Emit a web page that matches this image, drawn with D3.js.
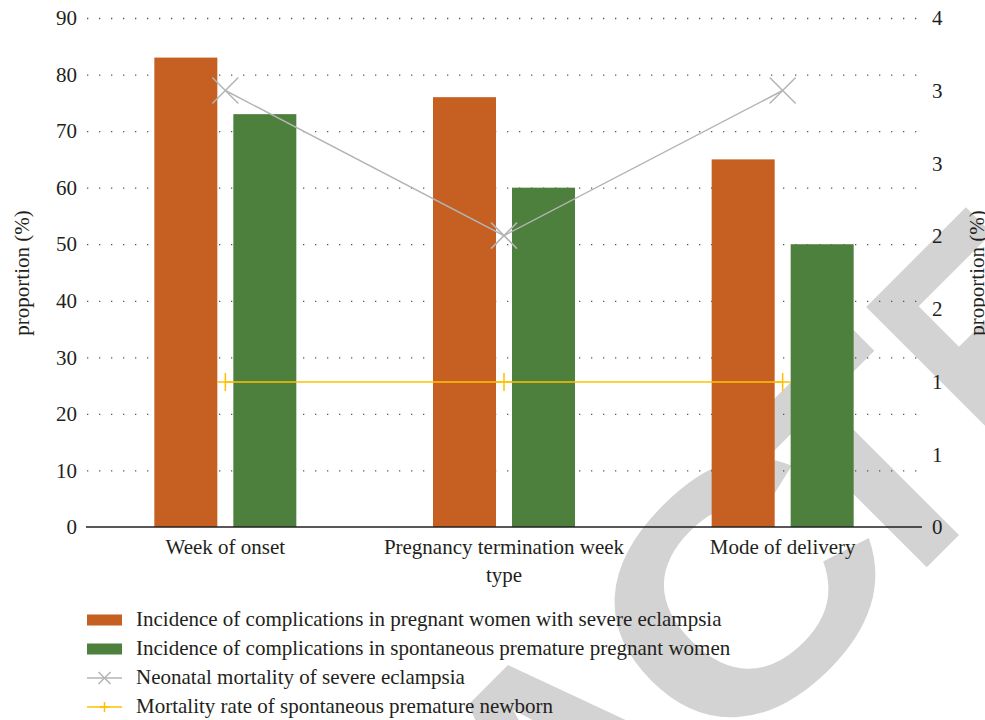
<!DOCTYPE html>
<html>
<head>
<meta charset="utf-8">
<script src="https://cdn.jsdelivr.net/npm/d3@7"></script>
<style>
  body { margin: 0; background: #fff; }
  svg { display: block; }
</style>
</head>
<body>
<svg id="chart" width="985" height="720"></svg>
<script>
// ---- data ----
const categories = ["Week of onset", "Pregnancy termination week", "Mode of delivery"];
const severeComplications = [83, 76, 65];        // left axis, %
const spontaneousComplications = [73, 60, 50];   // left axis, %
const neonatalMortality = [3.43, 2.29, 3.43];    // right axis, %
const prematureMortality = [1.14, 1.14, 1.14];   // right axis, %
const leftTicks = [0, 10, 20, 30, 40, 50, 60, 70, 80, 90];
const rightTicks = [0, 0.571, 1.143, 1.714, 2.286, 2.857, 3.429, 4];
const seriesNames = [
  "Incidence of complications in pregnant women with severe eclampsia",
  "Incidence of complications in spontaneous premature pregnant women",
  "Neonatal mortality of severe eclampsia",
  "Mortality rate of spontaneous premature newborn"
];
const xTitle = "type";
const yTitle = "proportion (%)";
const stamp = "RETRACTED";

// ---- style ----
const plot = { left: 86, right: 922, top: 18, bottom: 527 };
const colors = { severe: "#C55F22", spont: "#4C803C", neonatal: "#B4B4B4", premature: "#FFC000" };
const textColor = "#231f20";
const serif = "'Liberation Serif', 'Times New Roman', serif";
const fontSize = 21;
const barW = 63, barGap = 16;

const svg = d3.select("#chart");

// ---- scales ----
const x = d3.scaleBand().domain(categories).range([plot.left, plot.right]).padding(0);
const yL = d3.scaleLinear().domain([0, 90]).range([plot.bottom, plot.top]);
const yR = d3.scaleLinear().domain([0, 4]).range([plot.bottom, plot.top]);

// ---- background stamp: one big diagonal word, set letter by letter ----
const stampFont = 330, stampBase = 121;
// centre of each letter along the word's baseline, and its horizontal squeeze
const stampLayout = [[-1095, 1], [-889, 0.79], [-701, 0.96], [-481, 1], [-243, 1],
                     [0, 1.18], [173, 0.96], [361, 0.79], [567, 1]];
svg.append("g")
  .attr("transform", "translate(735,588) rotate(-45)")
  .selectAll("text")
  .data(stamp.split(""))
  .join("text")
  .attr("transform", (d, i) => `translate(${stampLayout[i][0]},${stampBase}) scale(${stampLayout[i][1]},1)`)
  .attr("text-anchor", "middle")
  .attr("font-family", "'Liberation Sans', Arial, sans-serif")
  .attr("font-weight", "bold")
  .attr("font-size", stampFont)
  .attr("fill", "#d3d3d3")
  .text(d => d);

// ---- dotted gridlines ----
const grid = svg.append("g")
  .attr("transform", `translate(${plot.left + 1},0)`)
  .call(d3.axisRight(yL).tickValues(leftTicks.slice(1)).tickSize(plot.right - plot.left - 5).tickFormat(""));
grid.select(".domain").remove();
grid.selectAll("line")
  .attr("stroke", "#555")
  .attr("stroke-width", 1.3)
  .attr("stroke-dasharray", "1.3 10.7");

// ---- bars ----
const groupOff = (x.bandwidth() - (2 * barW + barGap)) / 2;
const barSeries = [
  { vals: severeComplications, color: colors.severe },
  { vals: spontaneousComplications, color: colors.spont }
];
barSeries.forEach((s, i) => {
  svg.append("g").selectAll("rect")
    .data(categories)
    .join("rect")
    .attr("x", c => x(c) + groupOff + i * (barW + barGap))
    .attr("width", barW)
    .attr("y", (c, j) => yL(s.vals[j]))
    .attr("height", (c, j) => yL(0) - yL(s.vals[j]))
    .attr("fill", s.color);
});

// ---- x axis baseline ----
svg.append("line")
  .attr("x1", plot.left).attr("x2", plot.right)
  .attr("y1", yL(0)).attr("y2", yL(0))
  .attr("stroke", textColor).attr("stroke-width", 1.5);

// ---- lines with markers ----
const cx = c => x(c) + x.bandwidth() / 2;
const lineGen = vals => d3.line().x(c => cx(c)).y((c, j) => yR(vals[j]));

function crossPath(s) { return `M${-s},${-s}L${s},${s}M${-s},${s}L${s},${-s}`; }
function plusPath(w, h) { return `M${-w},0L${w},0M0,${-h}L0,${h}`; }

svg.append("path").datum(categories)
  .attr("d", lineGen(neonatalMortality))
  .attr("fill", "none").attr("stroke", colors.neonatal).attr("stroke-width", 1.5);
svg.append("g").selectAll("path").data(categories).join("path")
  .attr("transform", (c, j) => `translate(${cx(c)},${yR(neonatalMortality[j])})`)
  .attr("d", crossPath(13))
  .attr("fill", "none").attr("stroke", colors.neonatal).attr("stroke-width", 1.5);

svg.append("path").datum(categories)
  .attr("d", lineGen(prematureMortality))
  .attr("fill", "none").attr("stroke", colors.premature).attr("stroke-width", 1.5);
svg.append("g").selectAll("path").data(categories).join("path")
  .attr("transform", (c, j) => `translate(${cx(c)},${yR(prematureMortality[j])})`)
  .attr("d", plusPath(8, 9))
  .attr("fill", "none").attr("stroke", colors.premature).attr("stroke-width", 1.5);

// ---- axes ----
function styleAxis(g) {
  g.select(".domain").remove();
  g.selectAll(".tick line").remove();
  g.selectAll("text")
    .attr("font-family", serif)
    .attr("font-size", fontSize)
    .attr("fill", textColor);
}
svg.append("g")
  .attr("transform", `translate(${plot.left},0)`)
  .call(d3.axisLeft(yL).tickValues(leftTicks).tickSize(0).tickPadding(9).tickFormat(d3.format("d")))
  .call(styleAxis);

svg.append("g")
  .attr("transform", `translate(${plot.right},0)`)
  .call(d3.axisRight(yR).tickValues(rightTicks).tickSize(0).tickPadding(10).tickFormat(d3.format(".0f")))
  .call(styleAxis);

const xAxis = svg.append("g")
  .attr("transform", `translate(0,${yL(0)})`)
  .call(d3.axisBottom(x).tickSize(0).tickPadding(0))
  .call(styleAxis);
xAxis.selectAll(".tick text").attr("y", 27).attr("dy", null);

// axis titles
svg.append("text")
  .attr("x", (plot.left + plot.right) / 2).attr("y", 582)
  .attr("text-anchor", "middle")
  .attr("font-family", serif).attr("font-size", fontSize).attr("fill", textColor)
  .text(xTitle);
svg.append("text")
  .attr("transform", `translate(29,273) rotate(-90)`)
  .attr("text-anchor", "middle")
  .attr("font-family", serif).attr("font-size", fontSize).attr("fill", textColor)
  .text(yTitle);
svg.append("text")
  .attr("transform", `translate(984,273) rotate(-90)`)
  .attr("text-anchor", "middle")
  .attr("font-family", serif).attr("font-size", fontSize).attr("fill", textColor)
  .text(yTitle);

// ---- legend ----
const legend = svg.append("g").attr("transform", "translate(87,0)");
const rowY = [620, 649, 678, 707];
const lg = legend.selectAll("g").data(seriesNames).join("g")
  .attr("transform", (d, i) => `translate(0,${rowY[i]})`);
lg.filter((d, i) => i < 2).append("rect")
  .attr("x", 0).attr("y", -5.5).attr("width", 35).attr("height", 11)
  .attr("fill", (d, i) => i === 0 ? colors.severe : colors.spont);
lg.filter((d, i) => i >= 2).append("line")
  .attr("x1", 0).attr("x2", 35).attr("y1", 0).attr("y2", 0)
  .attr("stroke", (d, i) => i === 0 ? colors.neonatal : colors.premature)
  .attr("stroke-width", 1.5);
lg.filter((d, i) => i === 2).append("path")
  .attr("transform", "translate(17.5,0)").attr("d", crossPath(6))
  .attr("fill", "none").attr("stroke", colors.neonatal).attr("stroke-width", 1.5);
lg.filter((d, i) => i === 3).append("path")
  .attr("transform", "translate(17.5,0)").attr("d", plusPath(5, 5))
  .attr("fill", "none").attr("stroke", colors.premature).attr("stroke-width", 1.5);
lg.append("text")
  .attr("x", 49).attr("y", 6)
  .attr("font-family", serif).attr("font-size", fontSize).attr("fill", textColor)
  .text(d => d);
</script>
</body>
</html>
